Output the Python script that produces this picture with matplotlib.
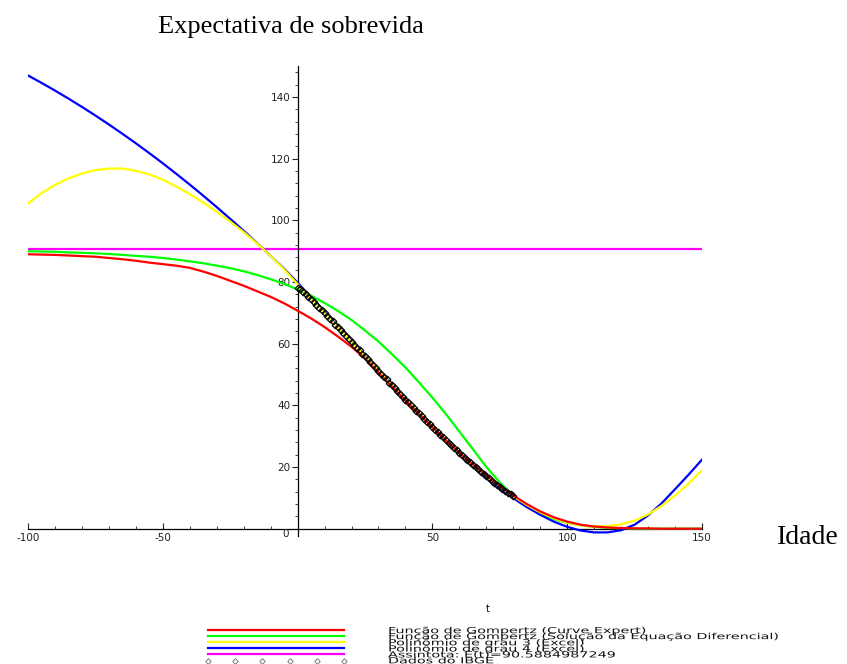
import matplotlib
matplotlib.use("Agg")
import matplotlib.pyplot as plt
import matplotlib.patheffects as pe
from matplotlib.lines import Line2D
from matplotlib.ticker import FixedLocator, MultipleLocator
from matplotlib.transforms import Affine2D

plt.rcParams["axes.unicode_minus"] = False

# ages used for the fitted curves
t_curve = list(range(-100, 151, 5))

gompertz_ce = [89.0, 88.9, 88.8, 88.6, 88.4, 88.2, 87.8, 87.4, 86.9, 86.3,
               85.8, 85.3, 84.6, 83.4, 82.0, 80.4, 78.8, 77.0, 75.2, 73.1,
               70.7, 68.2, 65.4, 62.3, 59.0, 55.2, 50.6, 46.1, 41.6, 37.2,
               32.9, 28.7, 24.7, 20.9, 17.3, 13.9, 10.8, 8.0, 5.6, 3.7,
               2.3, 1.3, 0.7, 0.4, 0.2, 0.1, 0.1, 0.0, 0.0, 0.0, 0.0]

gompertz_ed = [90.0, 89.9, 89.8, 89.6, 89.5, 89.3, 89.1, 88.8, 88.5, 88.2,
               87.8, 87.3, 86.7, 86.1, 85.3, 84.5, 83.5, 82.3, 80.9, 79.4,
               77.6, 75.6, 73.2, 70.6, 67.7, 64.3, 60.7, 56.6, 52.3, 47.5,
               42.5, 37.2, 31.5, 25.8, 20.0, 15.0, 10.8, 7.4, 4.9, 3.1,
               1.9, 1.1, 0.6, 0.3, 0.1, 0.0, 0.0, 0.0, 0.0, 0.0, 0.0]

poly3 = [105.5, 108.8, 111.5, 113.6, 115.2, 116.3, 116.8, 116.8, 116.1, 114.9,
         113.2, 111.0, 108.5, 105.8, 102.8, 99.6, 96.2, 92.5, 88.5, 84.1,
         79.3, 74.5, 69.9, 65.3, 60.6, 55.9, 51.2, 46.5, 41.9, 37.4,
         33.0, 28.7, 24.6, 20.7, 17.0, 13.6, 10.5, 7.7, 5.3, 3.4,
         2.0, 1.1, 0.7, 0.8, 1.4, 2.6, 4.6, 7.4, 10.8, 14.6, 19.0]

poly4 = [147.0, 144.6, 142.1, 139.5, 136.8, 134.0, 131.1, 128.1, 125.0, 121.8,
         118.5, 115.1, 111.6, 108.0, 104.3, 100.5, 96.6, 92.6, 88.5, 84.3,
         79.8, 75.0, 70.3, 65.6, 60.9, 56.1, 51.4, 46.7, 42.0, 37.4,
         32.9, 28.6, 24.4, 20.4, 16.6, 13.1, 9.9, 7.0, 4.5, 2.3,
         0.6, -0.6, -1.2, -1.2, -0.5, 1.3, 4.3, 8.2, 12.8, 17.5, 22.4]

asymptote = 90.5884987249

# IBGE table, one value per year of age
idade_ibge = list(range(0, 81))
esperanca_ibge = [78.2, 77.6, 76.9, 76.1, 75.3, 74.4, 73.5, 72.6, 71.7, 70.8,
                  69.9, 69.0, 68.1, 67.2, 66.2, 65.3, 64.4, 63.4, 62.5, 61.5,
                  60.6, 59.7, 58.7, 57.8, 56.8, 55.9, 55.0, 54.0, 53.1, 52.1,
                  51.2, 50.3, 49.3, 48.4, 47.4, 46.5, 45.6, 44.7, 43.7, 42.8,
                  41.9, 41.0, 40.1, 39.2, 38.3, 37.4, 36.5, 35.6, 34.7, 33.9,
                  33.0, 32.1, 31.3, 30.4, 29.6, 28.7, 27.9, 27.1, 26.2, 25.4,
                  24.6, 23.8, 23.0, 22.2, 21.5, 20.7, 20.0, 19.2, 18.5, 17.7,
                  17.0, 16.3, 15.6, 14.9, 14.3, 13.6, 13.0, 12.3, 11.7, 11.1,
                  10.5]

labels = ["Função de Gompertz (Curve Expert)",
          "Função de Gompertz (Solução da Equação Diferencial)",
          "Polinômio de grau 3 (Excel)",
          "Polinômio de grau 4 (Excel)",
          "Assíntota: E(t)=90.5884987249",
          "Dados do IBGE"]
cores = ["#ff0000", "#00ff00", "#ffff00", "#0000ff", "#ff00ff"]


class Stretch(pe.AbstractPathEffect):
    """widen the glyphs, Maple draws its legend text very flat"""
    def __init__(self, sx):
        super().__init__()
        self.sx = sx

    def draw_path(self, renderer, gc, tpath, affine, rgbFace=None):
        renderer.draw_path(gc, tpath, Affine2D().scale(self.sx, 1.0) + affine, rgbFace)


W, H = 847, 664
fig = plt.figure(figsize=(W / 100, H / 100), dpi=100)
ax = fig.add_axes([28 / W, (H - 536.4) / H, 674 / W, (536.4 - 66.2) / H])

lw = 1.6
ax.axhline(asymptote, color=cores[4], lw=lw, zorder=2)
ax.plot(t_curve, gompertz_ed, color=cores[1], lw=lw, zorder=3)
ax.plot(t_curve, poly4, color=cores[3], lw=lw, zorder=4)
ax.plot(t_curve, poly3, color=cores[2], lw=lw, zorder=5)
ax.plot(t_curve, gompertz_ce, color=cores[0], lw=lw, zorder=6)
ax.plot(idade_ibge, esperanca_ibge, ls="none", marker="D", ms=3.4,
        mfc="none", mec="black", mew=0.9, zorder=7)

ax.set_xlim(-100, 150)
ax.set_ylim(-2.5, 150)

for s in ["top", "right"]:
    ax.spines[s].set_visible(False)
ax.spines["left"].set_position(("data", 0))
ax.spines["bottom"].set_position(("data", 0))
ax.spines["left"].set_linewidth(0.9)
ax.spines["bottom"].set_linewidth(0.9)

ax.xaxis.set_major_locator(FixedLocator([-100, -50, 50, 100, 150]))
ax.xaxis.set_minor_locator(MultipleLocator(10))
ax.yaxis.set_major_locator(FixedLocator([20, 40, 60, 80, 100, 120, 140]))
ax.yaxis.set_minor_locator(FixedLocator([v for v in range(4, 150, 4) if v % 20]))
ax.tick_params(axis="x", which="both", direction="in", labelsize=7.5, pad=3,
               colors="#222222")
ax.tick_params(axis="x", which="major", length=4)
ax.tick_params(axis="x", which="minor", length=2.5)
ax.tick_params(axis="y", which="both", direction="out", labelsize=7.5, pad=1,
               colors="#222222")
ax.tick_params(axis="y", which="major", length=4)
ax.tick_params(axis="y", which="minor", length=2)
for lab in ax.get_xticklabels() + ax.get_yticklabels():
    lab.set_family("DejaVu Sans")
ax.text(-4.3, -1.6, "0", fontsize=7.5, family="DejaVu Sans", color="#222222",
        ha="center", va="center")

fig.text(158 / W, 1 - 27 / H, "Expectativa de sobrevida", family="Liberation Serif",
         fontsize=19, ha="left", va="center")
fig.text(777 / W, 1 - 538 / H, "Idade", family="Liberation Serif",
         fontsize=20, ha="left", va="center")
fig.text(488 / W, 1 - 609 / H, "t", family="DejaVu Sans", fontsize=7,
         ha="center", va="center")

# legend drawn by hand, Maple style
fs = 6.0
em = fs * 100 / 72
row0, dy = 629.5, 6.2
asc = 0.76 * em
top = row0 + 0.36 * em - asc
fig.text(388 / W, 1 - top / H, "\n".join(labels), family="DejaVu Sans",
         fontsize=fs, ha="left", va="top", linespacing=0.56,
         color="#111111", path_effects=[Stretch(1.72)])
for i in range(6):
    yy = 1 - (row0 + i * dy) / H
    if i < 5:
        fig.add_artist(Line2D([208 / W, 344 / W], [yy, yy], color=cores[i], lw=1.6))
    else:
        fig.add_artist(Line2D([208 / W + k * 27.2 / W for k in range(6)], [yy] * 6,
                              ls="none", marker="D", ms=2.8, mfc="none",
                              mec="#666666", mew=0.6))

fig.savefig("out.png", dpi=100)
